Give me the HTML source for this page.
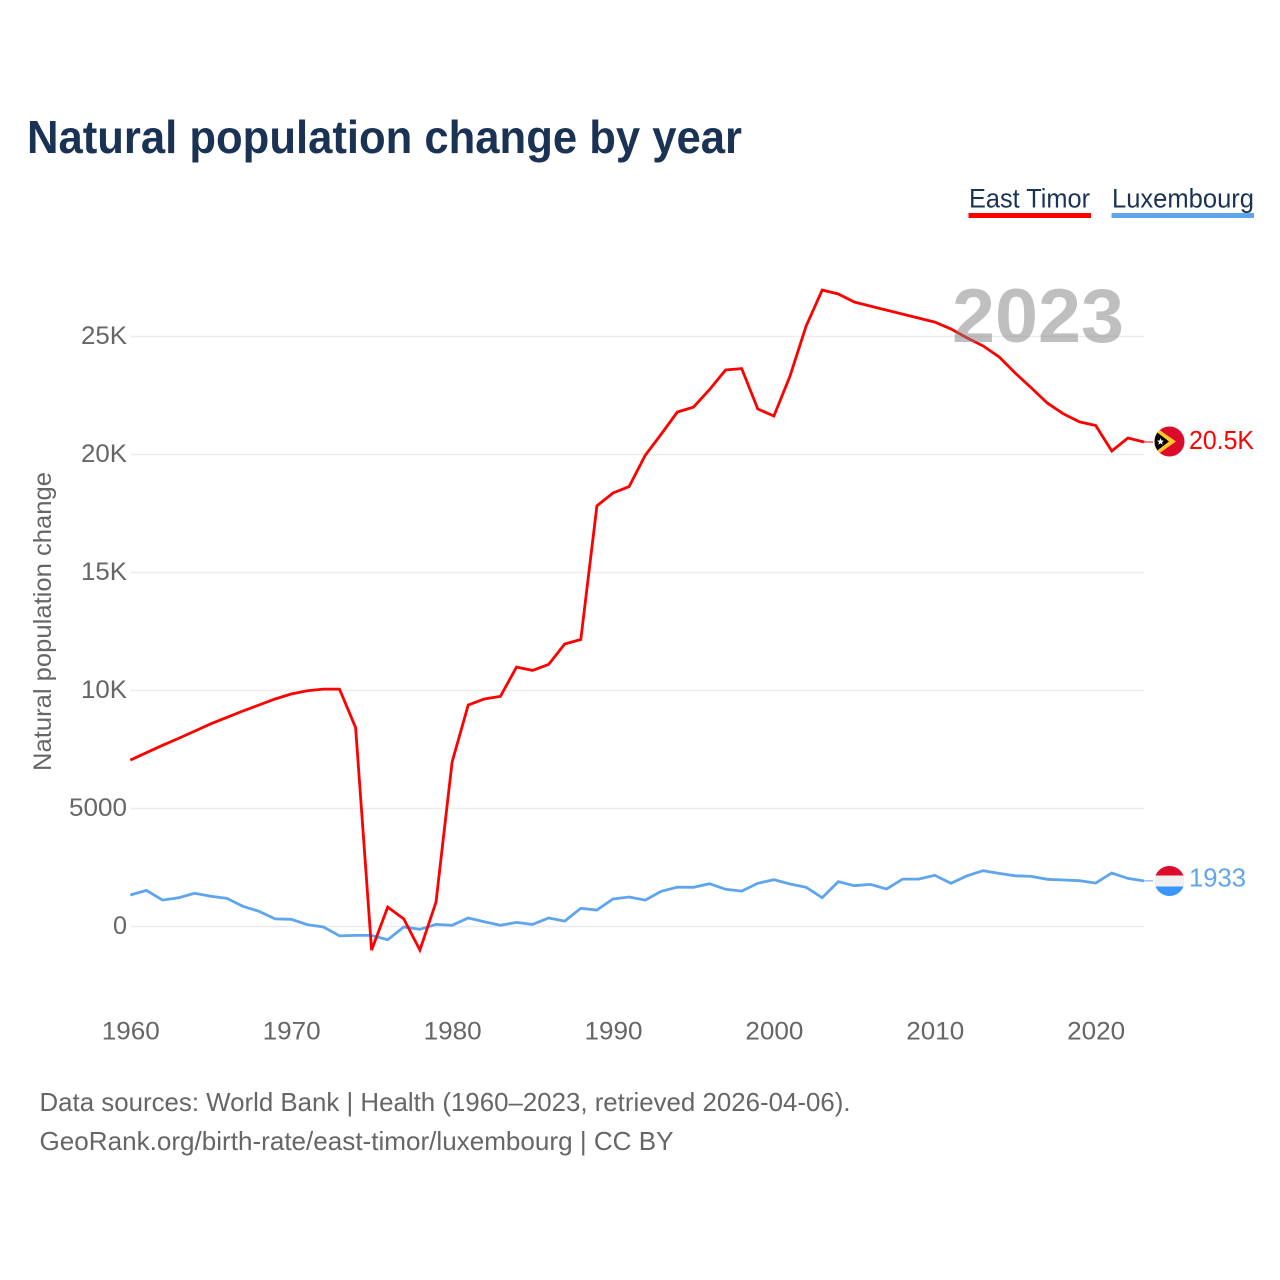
<!DOCTYPE html>
<html lang="en">
<head>
<meta charset="utf-8">
<title>Natural population change by year</title>
<style>
html,body{margin:0;padding:0;background:#fff;width:1280px;height:1280px;overflow:hidden}
svg{display:block;font-family:"Liberation Sans",sans-serif}
</style>
</head>
<body>
<svg id="chart" width="1280" height="1280" viewBox="0 0 1280 1280" xmlns="http://www.w3.org/2000/svg">
  <defs>
    <clipPath id="flag-clip-tl"><circle cx="1169.5" cy="441.5" r="15"/></clipPath>
    <clipPath id="flag-clip-lu"><circle cx="1169.5" cy="881" r="15"/></clipPath>
  </defs>
  <text x="27" y="153" font-size="46" font-weight="700" fill="#1a3355" textLength="715" lengthAdjust="spacingAndGlyphs">Natural population change by year</text>

  <g>
    <g>
      <text x="969" y="207.5" font-size="27" fill="#1a3355" textLength="121" lengthAdjust="spacingAndGlyphs">East Timor</text>
      <rect x="968.5" y="213" width="122.5" height="5" fill="#ff0000"/>
    </g>
    <g>
      <text x="1112" y="207.5" font-size="27" fill="#1a3355" textLength="142" lengthAdjust="spacingAndGlyphs">Luxembourg</text>
      <rect x="1111.5" y="213" width="142.5" height="5" fill="#5fa5ee"/>
    </g>
  </g>

  <g id="grid"></g>
  <g id="y-ticks"></g>
  <g id="x-ticks"></g>
  <text transform="translate(51 771) rotate(-90)" font-size="25" fill="#666" textLength="299" lengthAdjust="spacingAndGlyphs">Natural population change</text>

  <g id="series"></g>

  <text x="952" y="342" font-size="76" font-weight="700" fill="#808080" fill-opacity="0.5" textLength="172" lengthAdjust="spacingAndGlyphs">2023</text>

  <g clip-path="url(#flag-clip-tl)">
    <rect x="1154" y="426" width="31" height="31" fill="#dc0a2b"/>
    <polygon points="1154,426 1176,441.5 1154,457" fill="#ffc72c"/>
    <polygon points="1154,430 1169,441.5 1154,453" fill="#000"/>
    <polygon points="1160.5,438 1161.4,440.5 1164,440.6 1162,442.2 1162.7,444.8 1160.5,443.3 1158.3,444.8 1159,442.2 1157,440.6 1159.6,440.5" fill="#fff"/>
  </g>
  <text id="label-tl" x="1189" y="449" font-size="26" fill="#ff0000" textLength="65" lengthAdjust="spacingAndGlyphs">20.5K</text>

  <g clip-path="url(#flag-clip-lu)">
    <rect x="1154" y="865" width="31" height="10.5" fill="#dc0a2b"/>
    <rect x="1154" y="875.5" width="31" height="11" fill="#efefef"/>
    <rect x="1154" y="886.5" width="31" height="10.5" fill="#3a96fa"/>
  </g>
  <text id="label-lu" x="1189" y="886.5" font-size="26" fill="#5fa5ee" textLength="57" lengthAdjust="spacingAndGlyphs">1933</text>

  <text x="39.5" y="1111" font-size="26" fill="#666" textLength="811" lengthAdjust="spacingAndGlyphs">Data sources: World Bank | Health (1960–2023, retrieved 2026-04-06).</text>
  <text x="39.5" y="1150" font-size="26" fill="#666" textLength="634" lengthAdjust="spacingAndGlyphs">GeoRank.org/birth-rate/east-timor/luxembourg | CC BY</text>
</svg>
<script>
const startYear = 1960;
const eastTimor = [7050,7365,7680,7970,8280,8590,8860,9130,9385,9640,9850,9990,10060,10060,8430,-1000,820,320,-1000,1030,6970,9380,9640,9750,10990,10850,11100,11970,12160,17820,18370,18640,19960,20870,21800,22010,22750,23580,23640,21930,21630,23320,25440,26970,26800,26460,26290,26120,25950,25780,25610,25320,24940,24600,24130,23450,22820,22180,21720,21380,21230,20150,20700,20530];
const luxembourg = [1335,1530,1120,1220,1405,1280,1195,855,645,320,305,80,-20,-400,-375,-375,-560,-20,-120,90,50,360,200,50,175,90,360,230,770,700,1165,1250,1120,1490,1670,1660,1815,1575,1500,1830,1985,1800,1660,1220,1900,1730,1785,1590,2010,2010,2170,1830,2150,2365,2250,2150,2125,2000,1970,1940,1840,2265,2040,1933];
const yTickValues = [0,5000,10000,15000,20000,25000];
const yTickLabels = ['0','5000','10K','15K','20K','25K'];
const yTickWidths = [14,58,46,46,46,46];
const xTickValues = [1960,1970,1980,1990,2000,2010,2020];

const NS = 'http://www.w3.org/2000/svg';
function xScale(year){ return 130.3 + (year - 1960) * 16.09; }
function yScale(v){ return 926.5 - v * 0.0236; }

const grid = document.getElementById('grid');
const yTicks = document.getElementById('y-ticks');
const xTicks = document.getElementById('x-ticks');
const series = document.getElementById('series');
const lastYear = startYear + eastTimor.length - 1;

yTickValues.forEach(function(v, i){
  const line = document.createElementNS(NS, 'line');
  
  
  line.setAttribute('x1', xScale(startYear));
  line.setAttribute('x2', xScale(lastYear));
  line.setAttribute('y1', yScale(v));
  line.setAttribute('y2', yScale(v));
  line.setAttribute('stroke', '#ececec');
  line.setAttribute('stroke-width', '1.5');
  grid.appendChild(line);

  const t = document.createElementNS(NS, 'text');
  
  
  t.setAttribute('x', 127 - yTickWidths[i]);
  t.setAttribute('y', yScale(v) + 7.5);
  t.setAttribute('font-size', '25');
  t.setAttribute('fill', '#666');
  t.setAttribute('textLength', yTickWidths[i]);
  t.setAttribute('lengthAdjust', 'spacingAndGlyphs');
  t.textContent = yTickLabels[i];
  yTicks.appendChild(t);
});

xTickValues.forEach(function(year){
  const t = document.createElementNS(NS, 'text');
  
  
  t.setAttribute('x', xScale(year) - 28.5);
  t.setAttribute('y', 1039.5);
  t.setAttribute('font-size', '25');
  t.setAttribute('fill', '#666');
  t.setAttribute('textLength', '58');
  t.setAttribute('lengthAdjust', 'spacingAndGlyphs');
  t.textContent = String(year);
  xTicks.appendChild(t);
});

function buildPoints(values){
  return values.map(function(v, i){
    return xScale(startYear + i).toFixed(1) + ',' + yScale(v).toFixed(1);
  }).join(' ');
}

const lineLux = document.createElementNS(NS, 'polyline');


lineLux.setAttribute('points', buildPoints(luxembourg));
lineLux.setAttribute('fill', 'none');
lineLux.setAttribute('stroke', '#5fa5ee');
lineLux.setAttribute('stroke-width', '2.8');
series.appendChild(lineLux);

const lineTl = document.createElementNS(NS, 'polyline');


lineTl.setAttribute('points', buildPoints(eastTimor));
lineTl.setAttribute('fill', 'none');
lineTl.setAttribute('stroke', '#ff0000');
lineTl.setAttribute('stroke-width', '2.8');
series.appendChild(lineTl);

const connTl = document.createElementNS(NS, 'line');


connTl.setAttribute('x1', xScale(lastYear));
connTl.setAttribute('x2', xScale(lastYear) + 9);
connTl.setAttribute('y1', yScale(eastTimor[eastTimor.length - 1]));
connTl.setAttribute('y2', yScale(eastTimor[eastTimor.length - 1]));
connTl.setAttribute('stroke', '#ff0000');
connTl.setAttribute('stroke-width', '1');
series.appendChild(connTl);

const connLu = document.createElementNS(NS, 'line');


connLu.setAttribute('x1', xScale(lastYear));
connLu.setAttribute('x2', xScale(lastYear) + 9);
connLu.setAttribute('y1', yScale(luxembourg[luxembourg.length - 1]));
connLu.setAttribute('y2', yScale(luxembourg[luxembourg.length - 1]));
connLu.setAttribute('stroke', '#5fa5ee');
connLu.setAttribute('stroke-width', '1');
series.appendChild(connLu);
</script>
</body>
</html>
